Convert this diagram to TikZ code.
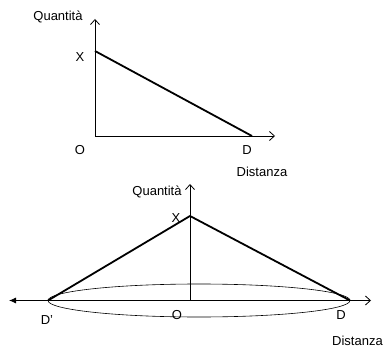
\documentclass[tikz,border=0pt]{standalone}
\usepackage{fontspec}
\setmainfont{Liberation Sans}
\usetikzlibrary{arrows.meta, positioning}
\tikzset{
  every picture/.style={x=1pt, y=-1pt},
  axis/.style={line width=0.8pt, -{Straight Barb[length=5pt, width=9pt]}},
  curve/.style={line width=1.8pt, line join=round},
  lbl/.style={inner sep=0pt, font=\fontsize{13}{15}\selectfont},
}
\begin{document}
\begin{tikzpicture}
  \useasboundingbox (0,0) rectangle (385,347);
  % upper graph
  \coordinate (o1) at (95,136);
  \coordinate (ytop1) at (95,19);
  \coordinate (xend1) at (275,136);
  \coordinate (x1) at (95,51);
  \coordinate (d1) at (252,136);
  \draw[axis] (o1) -- (ytop1);
  \draw[axis] (o1) -- (xend1);
  \draw[curve] (x1) -- (d1);
  \node[lbl] (q1) at (58,17) {Quantità};
  \node[lbl] (lx1) at (80,57) {X};
  \node[lbl] (lo1) at (80,150) {O};
  \node[lbl] (ld1) at (247,150) {D};
  \node[lbl] (dist1) at (262,172) {Distanza};
  % lower graph
  \coordinate (o2) at (190,300.5);
  \coordinate (ytop2) at (190,184);
  \coordinate (xleft2) at (9,300.5);
  \coordinate (xend2) at (371,300.5);
  \coordinate (x2) at (190,216);
  \coordinate (dl2) at (48,300.5);
  \coordinate (dr2) at (350,300.5);
  \draw[line width=0.6pt] (199,300.5) ellipse [x radius=151, y radius=16.5];
  \draw[axis] (o2) -- (ytop2);
  \draw[axis] (dl2) -- (xend2);
  \draw[line width=0.8pt, -{Latex[length=7pt, width=6pt]}] (dl2) -- (xleft2);
  \draw[curve] (dl2) -- (x2) -- (dr2);
  \node[lbl] (q2) at (157,192) {Quantità};
  \node[lbl] (lx2) at (176,218) {X};
  \node[lbl] (ldl2) at (47,320) {D'};
  \node[lbl] (lo2) at (177,315) {O};
  \node[lbl] (ldr2) at (341,315) {D};
  \node[lbl, anchor=east] (dist2) at (383,341) {Distanza};
\end{tikzpicture}
\end{document}
